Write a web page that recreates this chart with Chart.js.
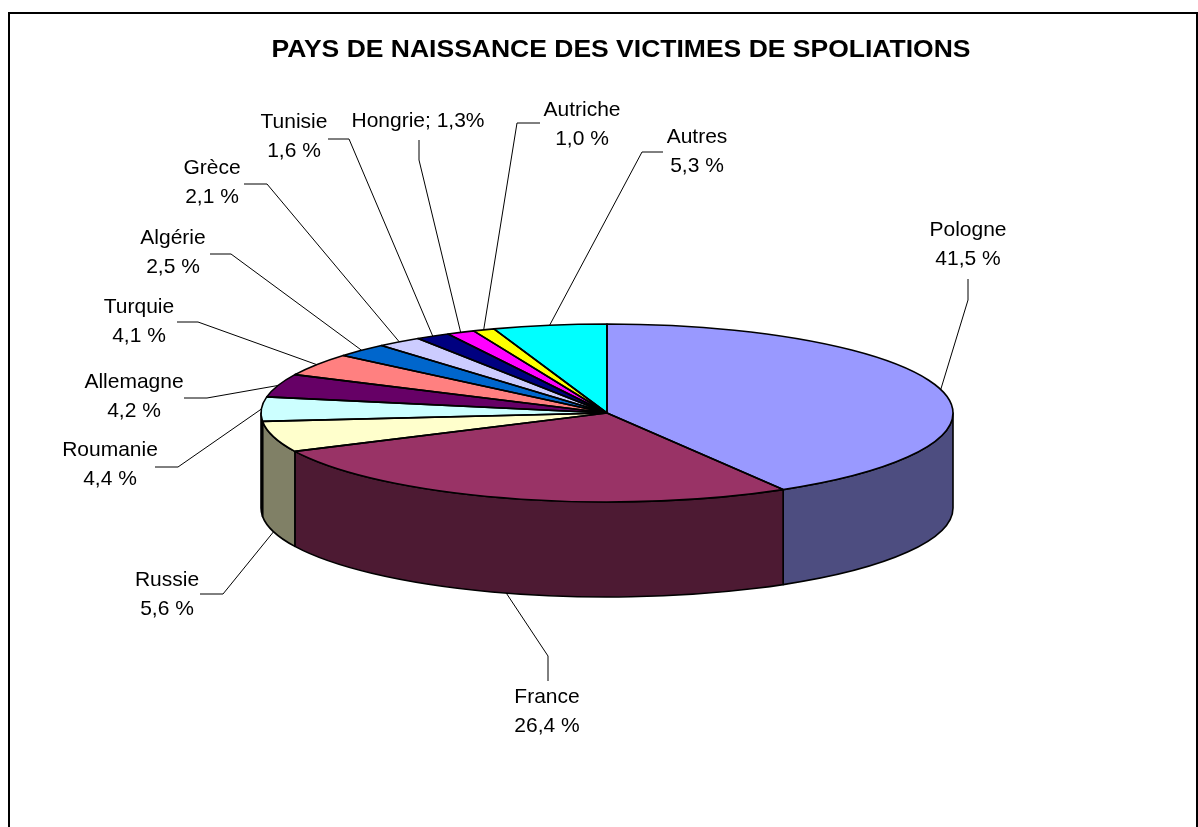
<!DOCTYPE html>
<html>
<head>
<meta charset="utf-8">
<script src="https://cdn.jsdelivr.net/npm/chart.js@4/dist/chart.umd.min.js"></script>
<style>
  html, body { margin: 0; padding: 0; background: #fff; }
  #wrap { position: relative; width: 1198px; height: 827px; }
  canvas { display: block; background: #fff; }
</style>
</head>
<body>
<div id="wrap"><canvas id="c" width="1198" height="827"></canvas></div>
<script>
// ---- data ----
const categories = ['Pologne', 'France', 'Russie', 'Roumanie', 'Allemagne', 'Turquie',
                    'Algérie', 'Grèce', 'Tunisie', 'Hongrie', 'Autriche', 'Autres'];
const shares = [41.5, 26.4, 5.6, 4.4, 4.2, 4.1, 2.5, 2.1, 1.6, 1.3, 1.0, 5.3];
const shareTexts = ['41,5 %', '26,4 %', '5,6 %', '4,4 %', '4,2 %', '4,1 %',
                    '2,5 %', '2,1 %', '1,6 %', '1,3%', '1,0 %', '5,3 %'];
const singleLineLabel = [false, false, false, false, false, false,
                         false, false, false, true, false, false];
const chartTitle = 'PAYS DE NAISSANCE DES VICTIMES DE SPOLIATIONS';

// ---- styles / layout ----
const sliceColors = ['#9999FF', '#993366', '#FFFFCC', '#CCFFFF', '#660066', '#FF8080',
                     '#0066CC', '#CCCCFF', '#000080', '#FF00FF', '#FFFF00', '#00FFFF'];
const TILT = 89 / 346;     // vertical squash of the top face
const DEPTH = 95;          // wall height in px
const LABEL_FONT = '21px "Liberation Sans", Arial, sans-serif';
const LINE_PITCH = 29;
// label anchor: [center x, first baseline]
const labelPos = [[968, 236], [547, 703], [167, 586], [110, 456], [134, 388], [139, 313],
                  [173, 244], [212, 174], [294, 128], [418, 127], [582, 116], [697, 143]];
// leader: end near label, elbow
const leaderEnd = [[968, 279], [548, 681], [200, 594], [155, 467], [184, 398], [177, 322],
                   [210, 254], [244, 184], [328, 139], [419, 140], [540, 123], [663, 152]];
const leaderElbow = [[968, 300], [548, 656], [223, 594], [178, 467], [207, 398], [198, 322],
                     [231, 254], [267, 184], [349, 139], [419, 160], [517, 123], [642, 152]];

function shade(hex) {
  const n = parseInt(hex.slice(1), 16);
  const r = Math.round(((n >> 16) & 255) * 0.5);
  const g = Math.round(((n >> 8) & 255) * 0.5);
  const b = Math.round((n & 255) * 0.5);
  return `rgb(${r},${g},${b})`;
}

const pie3d = {
  id: 'pie3d',
  beforeDraw(chart) {
    const ctx = chart.ctx;
    ctx.save();
    ctx.fillStyle = '#fff';
    ctx.fillRect(0, 0, chart.width, chart.height);
    ctx.restore();
  },
  beforeDatasetsDraw(chart) {
    const meta = chart.getDatasetMeta(0);
    const ctx = chart.ctx;
    const a0 = meta.data[0];
    const cx = a0.x, cy = a0.y, R = a0.outerRadius, ry = R * TILT;
    ctx.save();
    ctx.lineWidth = 1.6;
    ctx.strokeStyle = '#000';
    ctx.lineJoin = 'round';
    meta.data.forEach((arc, i) => {
      const s = Math.max(arc.startAngle, 0);
      const e = Math.min(arc.endAngle, Math.PI);
      if (e <= s) return;
      ctx.beginPath();
      ctx.moveTo(cx + R * Math.cos(s), cy + ry * Math.sin(s));
      ctx.ellipse(cx, cy, R, ry, 0, s, e, false);
      ctx.lineTo(cx + R * Math.cos(e), cy + ry * Math.sin(e) + DEPTH);
      ctx.ellipse(cx, cy + DEPTH, R, ry, 0, e, s, true);
      ctx.closePath();
      ctx.fillStyle = shade(sliceColors[i]);
      ctx.fill();
      ctx.stroke();
    });
    ctx.restore();
    ctx.save();
    ctx.translate(cx, cy);
    ctx.scale(1, TILT);
    ctx.translate(-cx, -cy);
  },
  afterDatasetsDraw(chart) {
    const ctx = chart.ctx;
    ctx.restore();
    const meta = chart.getDatasetMeta(0);
    const a0 = meta.data[0];
    const cx = a0.x, cy = a0.y, R = a0.outerRadius, ry = R * TILT;
    // top face outlines
    ctx.save();
    ctx.lineWidth = 1.6;
    ctx.strokeStyle = '#000';
    ctx.lineJoin = 'round';
    meta.data.forEach((arc) => {
      ctx.beginPath();
      ctx.moveTo(cx, cy);
      ctx.lineTo(cx + R * Math.cos(arc.startAngle), cy + ry * Math.sin(arc.startAngle));
      ctx.ellipse(cx, cy, R, ry, 0, arc.startAngle, arc.endAngle, false);
      ctx.closePath();
      ctx.stroke();
    });
    ctx.restore();
    // leader lines
    ctx.save();
    ctx.lineWidth = 1;
    ctx.strokeStyle = '#000';
    meta.data.forEach((arc, i) => {
      const m = (arc.startAngle + arc.endAngle) / 2;
      let px = cx + R * Math.cos(m);
      let py = cy + ry * Math.sin(m);
      if (Math.sin(m) > 0) py += DEPTH;
      ctx.beginPath();
      ctx.moveTo(px, py);
      ctx.lineTo(leaderElbow[i][0], leaderElbow[i][1]);
      ctx.lineTo(leaderEnd[i][0], leaderEnd[i][1]);
      ctx.stroke();
    });
    ctx.restore();
    // labels
    ctx.save();
    ctx.font = LABEL_FONT;
    ctx.fillStyle = '#000';
    ctx.textAlign = 'center';
    ctx.textBaseline = 'alphabetic';
    categories.forEach((name, i) => {
      const [x, y] = labelPos[i];
      if (singleLineLabel[i]) {
        ctx.fillText(name + '; ' + shareTexts[i], x, y);
      } else {
        ctx.fillText(name, x, y);
        ctx.fillText(shareTexts[i], x, y + LINE_PITCH);
      }
    });
    ctx.restore();
  },
  afterDraw(chart) {
    const ctx = chart.ctx;
    ctx.save();
    // frame
    ctx.lineWidth = 2;
    ctx.strokeStyle = '#000';
    ctx.strokeRect(9, 13, 1188, 900);
    // title
    ctx.font = 'bold 23px "Liberation Sans", Arial, sans-serif';
    ctx.fillStyle = '#000';
    ctx.textAlign = 'center';
    ctx.textBaseline = 'alphabetic';
    const w = ctx.measureText(chartTitle).width;
    const target = 699;
    ctx.translate(621, 57);
    ctx.scale(target / w, 1);
    ctx.fillText(chartTitle, 0, 0);
    ctx.restore();
  }
};

new Chart(document.getElementById('c'), {
  type: 'pie',
  data: {
    labels: categories,
    datasets: [{
      data: shares,
      backgroundColor: sliceColors,
      borderWidth: 0,
      radius: 346
    }]
  },
  options: {
    responsive: false,
    animation: false,
    devicePixelRatio: 1,
    rotation: 0,
    layout: { padding: { left: 261, right: 245, top: 67, bottom: 68 } },
    plugins: {
      legend: { display: false },
      tooltip: { enabled: false },
      title: { display: false }
    },
    events: []
  },
  plugins: [pie3d]
});
</script>
</body>
</html>
